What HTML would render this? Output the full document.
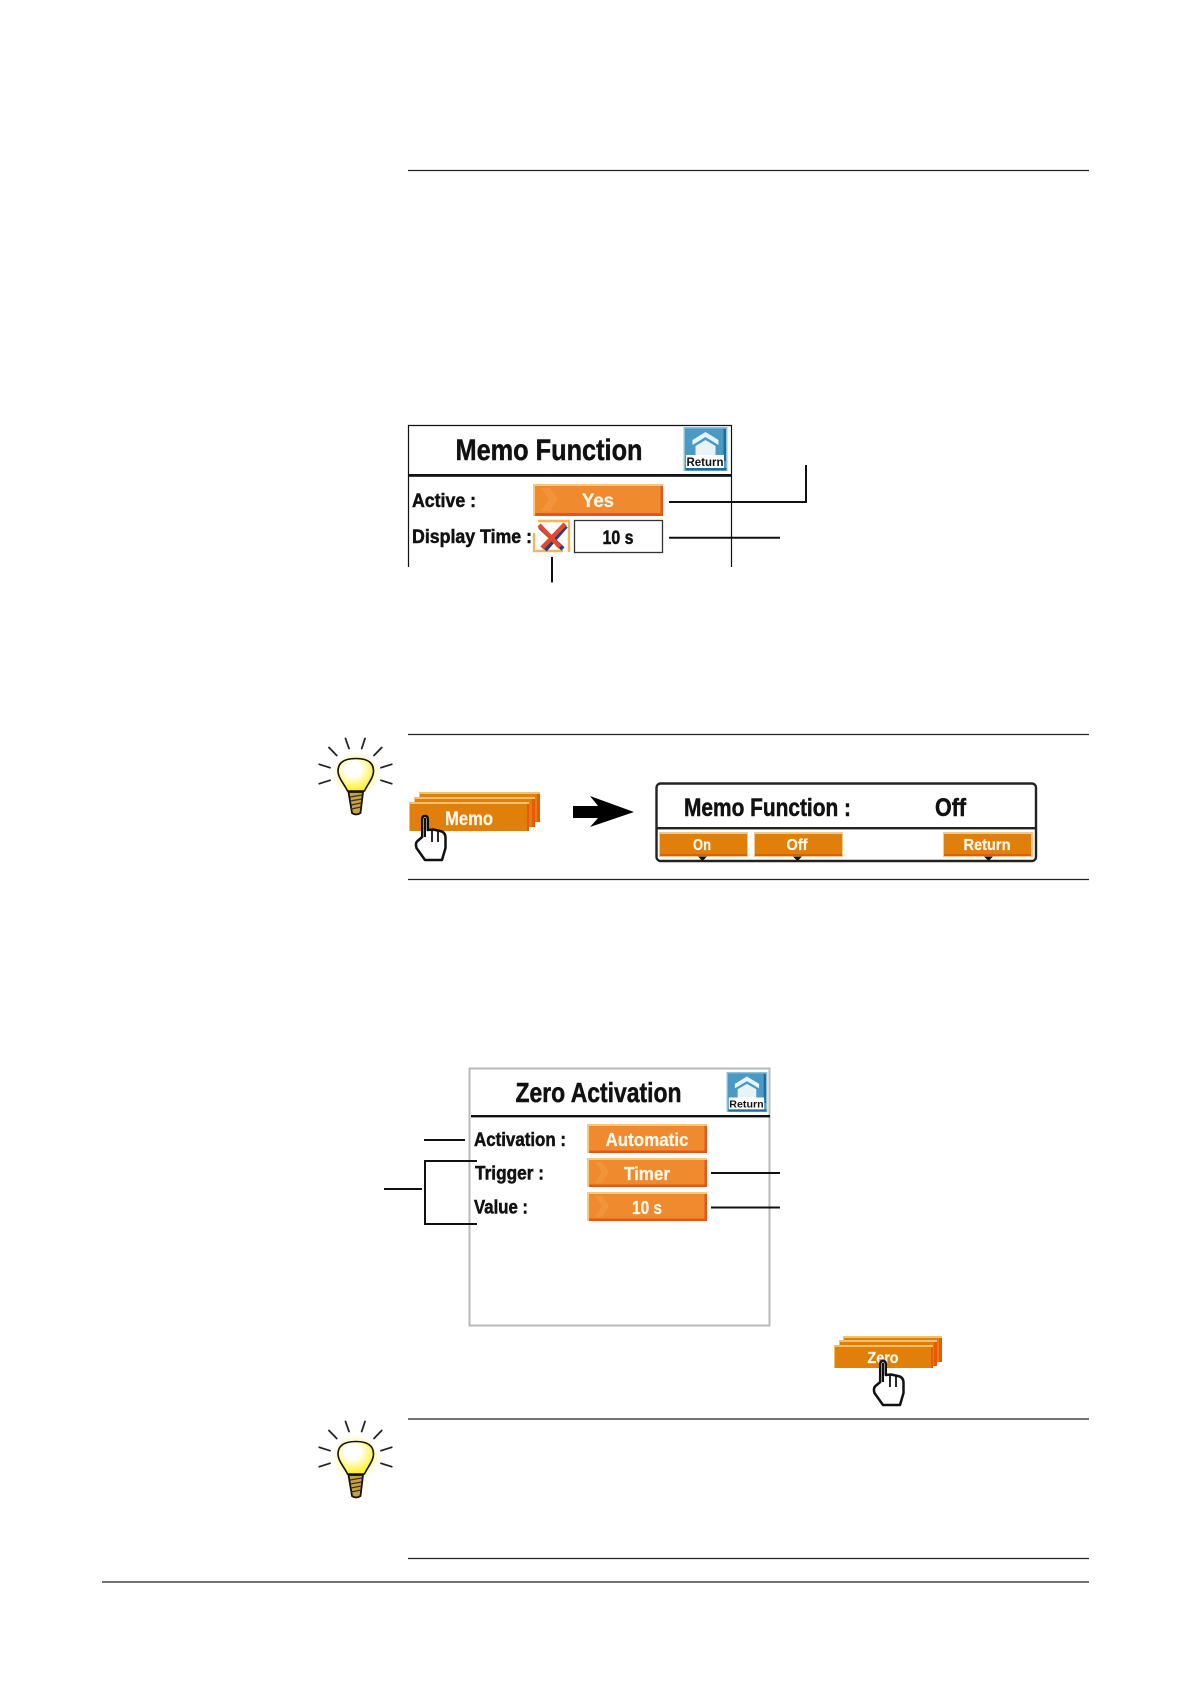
<!DOCTYPE html>
<html><head><meta charset="utf-8"><style>
html,body{margin:0;padding:0;background:#fff}
svg{display:block}
text{font-family:"Liberation Sans",sans-serif;font-weight:bold}
.k{fill:#111;stroke:#111;stroke-width:.5}
.w{fill:#fff8ea;stroke:#fff8ea;stroke-width:.25}
</style></head><body>
<svg width="1191" height="1684" viewBox="0 0 1191 1684" xmlns="http://www.w3.org/2000/svg">
<defs>
<radialGradient id="glow"><stop offset="0.6" stop-color="#fff27a" stop-opacity=".7"/><stop offset="1" stop-color="#fff27a" stop-opacity="0"/></radialGradient>
<radialGradient id="bg" cx=".42" cy=".33" r=".72"><stop offset="0.3" stop-color="#ffffff"/><stop offset="1" stop-color="#fff000"/></radialGradient>
<g id="hand">
<path d="M7.200 18 V4 Q7.200 1 10 1 Q12.800 1 12.800 4 V15 L18 14.500 L25 16 Q30.500 17 30.500 23 V33 L27 45 H10 L1.500 33 Q0 28 2.500 26 L7.200 22 Z" fill="#fff" stroke="#111" stroke-width="2.500" stroke-linejoin="round"/>
<path d="M17 15 V27 M23 16 V27" stroke="#111" stroke-width="1.800" fill="none"/>
<path d="M10 3 V22" stroke="#111" stroke-width="2"/>
</g>
<g id="bulb">
<ellipse cx="356" cy="1457" rx="24" ry="22" fill="url(#glow)"/>
<path d="M356 1441.500 C345 1441.500 338 1445 338 1454 C338 1461 345 1468 347.500 1474 H364.500 C367 1468 373.500 1461 373.500 1454 C373.500 1445 367 1441.500 356 1441.500 Z" fill="url(#bg)" stroke="#111" stroke-width="1.600"/>
<path d="M348.500 1475 H363 L360.500 1496 Q356 1499 352 1496 Z" fill="#c9a23a" stroke="#111" stroke-width="1.800"/>
<path d="M350 1480 L362 1478 M350 1484 L362 1482 M351 1488 L361 1486 M351 1492 L361 1490" stroke="#333" stroke-width="1.200"/>
<path d="M345.500 1421.500 L349 1431.500 M365 1421.500 L361.700 1431.500 M329 1430.500 L336.700 1438.500 M381.700 1430.500 L374 1438.500 M319.300 1447.300 L330 1450.700 M391.700 1447.300 L381 1450.700 M319.300 1466.700 L330 1463.300 M391.700 1466.700 L381 1463.300" stroke="#222" stroke-width="1.800" stroke-linecap="round"/>
</g>
<g id="ret">
<rect x="0" y="0" width="44" height="44" fill="#8cc3dc"/>
<rect x="1.500" y="1.500" width="41" height="41" fill="#4a9ac3"/>
<rect x="40" y="2" width="2.500" height="32" fill="#1f6d9e"/>
<rect x="2" y="41" width="41" height="2.500" fill="#1f6d9e"/>
<path d="M22 5 L35 13 V18 L22 10 L9 18 V13 Z" fill="#e8f3f8"/>
<path d="M22 13 L32 19 V28 H12 V19 Z" fill="#e8f3f8"/>
<rect x="2.500" y="28" width="38" height="13" fill="#fff"/>
<text x="21.500" y="39" text-anchor="middle" font-size="11.500" fill="#111" textLength="37" lengthAdjust="spacingAndGlyphs">Return</text>
</g>
</defs>

<rect width="1191" height="1684" fill="#fff"/>

<!-- horizontal rules -->
<g stroke="#222" stroke-width="1.300">
<path d="M408 170.500 H1089"/>
<path d="M408 734.500 H1089"/>
<path d="M408 879.500 H1089"/>
<path d="M408 1419 H1089"/>
<path d="M408 1558.500 H1089"/>
<path d="M102 1582 H1089"/>
</g>

<!-- Memo Function panel -->
<path d="M408.500 567 V425.500 H731.500 V567" fill="none" stroke="#111" stroke-width="1.200"/>
<rect x="408.500" y="474" width="323" height="2.800" fill="#111"/>
<text x="455.500" y="460" font-size="30" class="k" textLength="187" lengthAdjust="spacingAndGlyphs">Memo Function</text>
<use href="#ret" x="683.500" y="427"/>
<text x="412" y="507" font-size="19" class="k" textLength="64" lengthAdjust="spacingAndGlyphs">Active :</text>
<text x="412" y="543" font-size="19" class="k" textLength="120" lengthAdjust="spacingAndGlyphs">Display Time :</text>

<rect x="533" y="484" width="130" height="32" fill="#fbc878"/>
<rect x="535" y="486" width="128" height="30" fill="#e4551f"/>
<rect x="535" y="486" width="125.500" height="27" fill="#ef8a2e"/>
<polygon points="541,488 550,488 558,499 550,511 541,511 549,499" fill="#f2953a"/>
<text x="598" y="507" text-anchor="middle" font-size="19" class="w" textLength="32" lengthAdjust="spacingAndGlyphs">Yes</text>

<!-- checkbox -->
<path d="M538 521 H569 V552 M534 533 V551 H563" fill="none" stroke="#f6b55a" stroke-width="2.400"/>
<path d="M540 527 L563 549 M566 526 L545 550" stroke="#1f3f8f" stroke-width="4.500"/>
<path d="M539 525 L560 547 M565 524 L542 548" stroke="#e24a2c" stroke-width="4.500"/>
<rect x="574.500" y="520.500" width="88" height="32" fill="#fff" stroke="#333" stroke-width="1.300"/>
<text x="618" y="544" text-anchor="middle" font-size="19" class="k" textLength="31" lengthAdjust="spacingAndGlyphs">10 s</text>

<path d="M669 502 H806 V465 M669 537.700 H780 M552 557 V582.500" fill="none" stroke="#111" stroke-width="2"/>

<!-- Bulb 1 -->
<use href="#bulb" y="-683"/>

<!-- Memo stack -->
<rect x="419" y="792" width="121" height="30" fill="#f6c06a"/>
<rect x="420" y="794" width="120" height="28" fill="#e8590c"/>
<rect x="420" y="794" width="117" height="28" fill="#e07f0a"/>
<rect x="414" y="797" width="121" height="30" fill="#f6c06a"/>
<rect x="415" y="799" width="120" height="28" fill="#e8590c"/>
<rect x="415" y="799" width="117" height="28" fill="#e07f0a"/>
<rect x="409" y="802" width="120" height="29" fill="#f6c06a"/>
<rect x="410" y="804" width="117" height="27" fill="#e07f0a"/>
<rect x="527" y="804" width="2" height="27" fill="#e8590c"/>
<text x="469" y="825" text-anchor="middle" font-size="19" class="w" textLength="48" lengthAdjust="spacingAndGlyphs">Memo</text>
<use href="#hand" x="415" y="815"/>

<!-- arrow -->
<polygon points="573,806 598,806 590,796 634,812 590,827 598,818 573,818" fill="#000"/>

<!-- Memo Function Off panel -->
<rect x="656.500" y="783.500" width="379.500" height="77.500" rx="4" fill="#fff" stroke="#222" stroke-width="2.400"/>
<rect x="657" y="827" width="379" height="2.400" fill="#222"/>
<text x="684" y="816" font-size="25" class="k" textLength="167" lengthAdjust="spacingAndGlyphs">Memo Function :</text>
<text x="935" y="816" font-size="25" class="k" textLength="31" lengthAdjust="spacingAndGlyphs">Off</text>

<g>
<rect x="659" y="832" width="89" height="25" fill="#f2c98c"/><rect x="660" y="834" width="87" height="22" fill="#e8590c"/><rect x="660" y="834" width="87" height="20" fill="#e07f0a"/>
<rect x="754" y="832" width="89" height="25" fill="#f2c98c"/><rect x="755" y="834" width="87" height="22" fill="#e8590c"/><rect x="755" y="834" width="87" height="20" fill="#e07f0a"/>
<rect x="943" y="832" width="90" height="25" fill="#f2c98c"/><rect x="944" y="834" width="87" height="22" fill="#e8590c"/><rect x="944" y="834" width="87" height="20" fill="#e07f0a"/>
</g>
<text x="702" y="850" text-anchor="middle" font-size="15.500" class="w" textLength="18" lengthAdjust="spacingAndGlyphs">On</text>
<text x="797" y="850" text-anchor="middle" font-size="15.500" class="w" textLength="21" lengthAdjust="spacingAndGlyphs">Off</text>
<text x="987" y="850" text-anchor="middle" font-size="15.500" class="w" textLength="47" lengthAdjust="spacingAndGlyphs">Return</text>
<path d="M698 856.500 H707 L702.500 861 Z M793 856.500 H802 L797.500 861 Z M984 856.500 H993 L988.500 861 Z" fill="#111"/>

<!-- Zero Activation panel -->
<rect x="469.500" y="1068.500" width="300" height="257" fill="#fff" stroke="#b9b9b9" stroke-width="2"/>
<rect x="471" y="1115" width="299" height="2.400" fill="#111"/>
<text x="515.500" y="1102" font-size="28" class="k" textLength="166" lengthAdjust="spacingAndGlyphs">Zero Activation</text>
<use href="#ret" transform="translate(726.500 1072) scale(.93 .91)"/>

<text x="474" y="1146" font-size="19" class="k" textLength="92" lengthAdjust="spacingAndGlyphs">Activation :</text>
<text x="475" y="1179.500" font-size="19" class="k" textLength="69" lengthAdjust="spacingAndGlyphs">Trigger :</text>
<text x="474" y="1213.500" font-size="19" class="k" textLength="54" lengthAdjust="spacingAndGlyphs">Value :</text>

<g>
<rect x="587" y="1124" width="120" height="29" fill="#fbc878"/><rect x="589" y="1126" width="118" height="27" fill="#e4551f"/><rect x="589" y="1126" width="115.500" height="24.500" fill="#ef8a2e"/>
<rect x="587" y="1158" width="120" height="29" fill="#fbc878"/><rect x="589" y="1160" width="118" height="27" fill="#e4551f"/><rect x="589" y="1160" width="115.500" height="24.500" fill="#ef8a2e"/>
<rect x="587" y="1192" width="120" height="29" fill="#fbc878"/><rect x="589" y="1194" width="118" height="27" fill="#e4551f"/><rect x="589" y="1194" width="115.500" height="24.500" fill="#ef8a2e"/>
<polygon points="595,1162 602,1162 609,1172 602,1183 595,1183 602,1172" fill="#f2953a"/>
<polygon points="595,1196 602,1196 609,1206 602,1217 595,1217 602,1206" fill="#f2953a"/>
</g>
<text x="647" y="1146" text-anchor="middle" font-size="18" class="w" textLength="83" lengthAdjust="spacingAndGlyphs">Automatic</text>
<text x="647" y="1180" text-anchor="middle" font-size="18" class="w" textLength="46" lengthAdjust="spacingAndGlyphs">Timer</text>
<text x="647" y="1214" text-anchor="middle" font-size="18" class="w" textLength="30" lengthAdjust="spacingAndGlyphs">10 s</text>

<path d="M424 1140 H465 M477 1161 H425 V1224 H477 M384 1189 H422 M711 1173 H780 M711 1207.500 H780" fill="none" stroke="#111" stroke-width="2"/>

<!-- Zero stack -->
<rect x="843" y="1336" width="99" height="26" fill="#f6c06a"/>
<rect x="844" y="1338" width="98" height="24" fill="#e8590c"/>
<rect x="844" y="1338" width="95" height="24" fill="#e07f0a"/>
<rect x="839" y="1340" width="98" height="26" fill="#f6c06a"/>
<rect x="840" y="1342" width="97" height="24" fill="#e8590c"/>
<rect x="840" y="1342" width="94" height="24" fill="#e07f0a"/>
<rect x="834" y="1345" width="99" height="23" fill="#f6c06a"/>
<rect x="835" y="1347" width="96" height="21" fill="#e07f0a"/>
<rect x="931" y="1347" width="2" height="21" fill="#e8590c"/>
<text x="883" y="1363" text-anchor="middle" font-size="15.500" class="w" textLength="31" lengthAdjust="spacingAndGlyphs">Zero</text>
<use href="#hand" x="873" y="1360"/>

<!-- Bulb 2 -->
<use href="#bulb"/>
</svg>
</body></html>
